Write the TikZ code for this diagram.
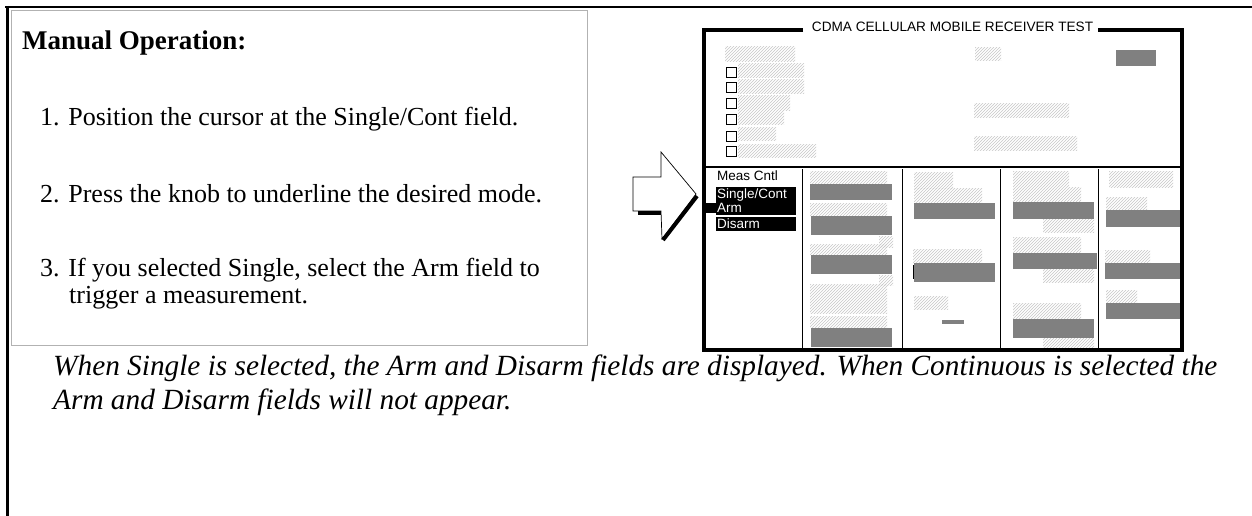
\documentclass[tikz,border=0pt]{standalone}
\usepackage{fontspec}
\setmainfont{Liberation Serif}
\newfontfamily\scrfont{Liberation Sans}
\usetikzlibrary{patterns}
\tikzset{
  hatch/.style={pattern=north east lines, pattern color=black!22},
  solid bar/.style={fill=black!50},
  chk/.style={draw=black, line width=0.9pt, fill=white},
  instr/.style={anchor=base west, inner sep=0pt, font=\fontsize{26}{27}\selectfont},
  captxt/.style={anchor=base west, inner sep=0pt, font=\fontsize{29.3}{30}\selectfont\itshape},
  scrtxt/.style={anchor=base west, inner sep=0pt, font=\scrfont\fontsize{13.5}{14}\selectfont},
  hilite/.style={fill=black},
}
\begin{document}
\begin{tikzpicture}[x=1pt,y=-1pt]
\useasboundingbox (0,0) rectangle (1252,516);
\fill[white] (0,0) rectangle (1252,516);
% page frame
\draw[line width=2pt] (5,7) -- (1252,7);
\draw[line width=2.2pt] (7.5,6) -- (7.5,516);
% instruction box
\draw[gray!60, line width=1pt] (11,11) rectangle (587,345);
\node[instr, font=\fontsize{27}{28}\selectfont\bfseries] (head) at (22,50) {Manual Operation:};
\node[instr] (i1) at (40,126) {1. Position the cursor at the Single/Cont field.};
\node[instr] (i2) at (40,202) {2. Press the knob to underline the desired mode.};
\node[instr] (i3) at (40,276) {3. If you selected Single, select the Arm field to};
\node[instr] (i4) at (69,303) {trigger a measurement.};
% caption
\node[captxt] (c1) at (53,375) {When Single is selected, the Arm and Disarm fields are displayed. When Continuous is selected the};
\node[captxt] (c2) at (53,409) {Arm and Disarm fields will not appear.};
% arrow
\draw[line width=0.7pt, fill=white] (633,177) -- (661,177) -- (661,152) -- (696,194) -- (662,239) -- (661,211) -- (633,211) -- cycle;
\fill (638,211) rectangle (661,215);
\draw[line width=4pt] (697,196) -- (663,240);
% top area bars
\foreach \a/\b/\c/\d in {725/47/795/62, 975/48/1001/61, 738/64/804/78, 738/80/804/94, 738/96/790/111, 738/112/784/125, 738/128/776/140, 738/144/816/157, 974/104/1069/118, 974/136/1077/150}
  \fill[hatch] (\a,\b) rectangle (\c,\d);
\fill[solid bar] (1116,50) rectangle (1156,66);
\foreach \t in {67,82,98,114,131,146}
  \draw[chk] (726,\t) rectangle (736,\t+10);
% lower columns hatches
\foreach \a/\b/\c/\d in {810/171/887/183, 810/203/887/215, 879/236/893/247, 810/244/887/254, 879/275/893/285, 810/284/887/313, 810/316/887/327,
  914/172/953/188, 914/188/982/202, 913/249/982/262, 914/296/948/309,
  1013/171/1069/186, 1013/187/1081/202, 1043/219/1094/232, 1013/237/1081/253, 1043/269/1094/282, 1013/303/1081/318, 1043/338/1094/348,
  1109/171/1173/187, 1106/197/1147/210, 1105/250/1150/263, 1106/290/1137/303}
  \fill[hatch] (\a,\b) rectangle (\c,\d);
\foreach \a/\b/\c/\d in {810/184/892/200, 811/216/892/235, 811/255/892/274, 811/328/892/347,
  914/203/995/219, 914/263/995/282, 942/320/964/324,
  1013/202/1094/219, 1013/253/1097/269, 1013/319/1094/338,
  1106/210/1181/227, 1105/263/1180/279, 1106/303/1180/319}
  \fill[solid bar] (\a,\b) rectangle (\c,\d);
\draw[line width=1pt] (913.5,265) -- (913.5,279);
% screen box
\draw[line width=3.5pt] (803,30) -- (704,30) -- (704,350) -- (1182,350) -- (1182,30) -- (1098,30);
\node[anchor=base, inner sep=0pt, font=\scrfont\fontsize{13.6}{14}\selectfont] (title) at (952.5,32) {CDMA CELLULAR MOBILE RECEIVER TEST};
\draw[line width=1.5pt] (704,167) -- (1182,167);
\foreach \x in {802,902,1000,1098}
  \draw[line width=1pt] (\x,169) -- (\x,350);
% Meas Cntl field
\fill[hilite] (703,203) rectangle (717,213);
\fill[hilite] (716,187) rectangle (796,215);
\fill[hilite] (716,217) rectangle (796,231);
\node[scrtxt] (mc) at (717,180) {Meas Cntl};
\node[scrtxt, text=white] (sc) at (717,198) {Single/Cont};
\node[scrtxt, text=white] (arm) at (717,212) {Arm};
\node[scrtxt, text=white] (dis) at (717,228) {Disarm};
\end{tikzpicture}
\end{document}
